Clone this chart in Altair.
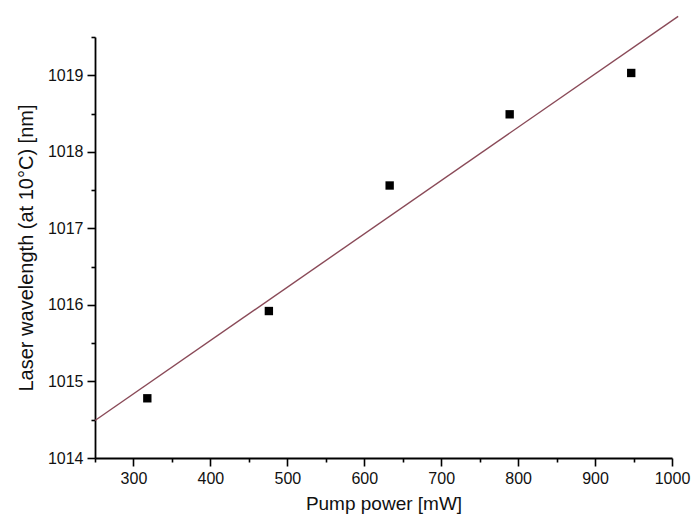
import altair as alt
import pandas as pd

# measured data points
pump_power = [318, 476, 633, 789, 947]
wavelength = [1014.78, 1015.92, 1017.56, 1018.49, 1019.03]

# linear fit line (as drawn)
fit_x = [250, 1008]
fit_y = [1014.49, 1019.77]

x_major = [300, 400, 500, 600, 700, 800, 900, 1000]
x_minor = [250, 350, 450, 550, 650, 750, 850, 950]
y_major = [1014, 1015, 1016, 1017, 1018, 1019]
y_minor = [1014.5, 1015.5, 1016.5, 1017.5, 1018.5, 1019.5]

pts = pd.DataFrame({"p": pump_power, "w": wavelength})
fit = pd.DataFrame({"p": fit_x, "w": fit_y})

FONT = "Liberation Sans"

xscale = alt.Scale(domain=[250, 1000], nice=False, zero=False)
yscale = alt.Scale(domain=[1014, 1019.5], nice=False, zero=False)

xaxis_major = alt.Axis(
    title="Pump power [mW]",
    orient="bottom",
    values=x_major,
    tickSize=8,
    labelFlush=False,
    labelOverlap=False,
    labelPadding=4,
    grid=False,
    format="d",
    titleY=51,
    titleFontSize=19,
    titleBaseline="alphabetic",
)
yaxis_major = alt.Axis(
    title="Laser wavelength (at 10°C) [nm]",
    orient="left",
    values=y_major,
    tickSize=8,
    labelOverlap=False,
    labelPadding=4,
    grid=False,
    format="d",
    titleX=-69,
    titleFontSize=20,
    titleBaseline="middle",
)
xaxis_minor = alt.Axis(
    title=None, orient="bottom", values=x_minor, tickSize=4,
    labels=False, domain=False, grid=False,
)
yaxis_minor = alt.Axis(
    title=None, orient="left", values=y_minor, tickSize=4,
    labels=False, domain=False, grid=False,
)

line = alt.Chart(fit).mark_line(color="#8a4a58", strokeWidth=1.4).encode(
    x=alt.X("p:Q", scale=xscale, axis=xaxis_major),
    y=alt.Y("w:Q", scale=yscale, axis=yaxis_major),
)

points = alt.Chart(pts).mark_square(color="black", size=70, opacity=1).encode(
    x=alt.X("p:Q", scale=xscale, axis=xaxis_minor),
    y=alt.Y("w:Q", scale=yscale, axis=yaxis_minor),
)

chart = (
    alt.layer(line, points)
    .resolve_axis(x="independent", y="independent")
    .properties(
        width=577,
        height=421,
        padding={"left": 95, "top": 37, "right": 20, "bottom": 70},
        autosize=alt.AutoSizeParams(type="none"),
        background="white",
    )
    .configure_view(stroke=None)
    .configure_axis(
        domainColor="black",
        domainWidth=1.8,
        tickColor="black",
        tickWidth=1.6,
        labelFont=FONT,
        labelFontSize=16,
        labelColor="#111111",
        titleFont=FONT,
        titleFontWeight="normal",
        titleColor="#111111",
    )
)

chart.save("out.html", embed_options={"renderer": "svg", "actions": False})
